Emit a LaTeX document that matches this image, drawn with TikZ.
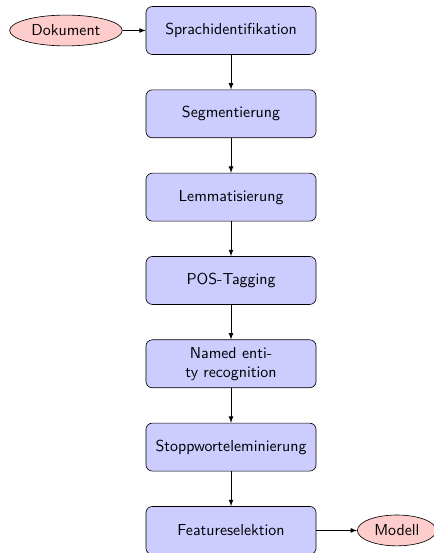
\documentclass[tikz,border=0pt]{standalone}
\usetikzlibrary{positioning,shapes.geometric}
\begin{document}
\begin{tikzpicture}[font=\sffamily, line join=round, >=latex,
	block/.style={rectangle, draw, fill=blue!20, rounded corners, text width=3.4cm, align=center, minimum width=3.76cm, minimum height=1.06cm},
	cloud/.style={ellipse, draw, fill=red!20}]
	\def\xb{5.107} \def\ytop{-0.674} \def\dy{1.842}
	\useasboundingbox (0,0) rectangle (9.573,-12.225);
	\foreach \n/\t [count=\i from 0] in {spr/Sprachidentifikation, seg/Segmentierung, lem/Lemmatisierung, pos/POS-Tagging, ner/{Named enti-\\ty recognition}, stop/Stoppworteleminierung, feat/Featureselektion}
		\node[block] (\n) at (\xb,{\ytop-\i*\dy}) {\t};
	\foreach \a/\b in {spr/seg, seg/lem, lem/pos, pos/ner, ner/stop, stop/feat}
		\draw[->] (\a) -- (\b);
	\node[cloud, left=0.51cm of spr] (dok) {Dokument};
	\node[cloud, right=0.9cm of feat] (mod) {Modell};
	\draw[->] (dok) -- (spr);
	\draw[->] (feat) -- (mod);
\end{tikzpicture}
\end{document}
